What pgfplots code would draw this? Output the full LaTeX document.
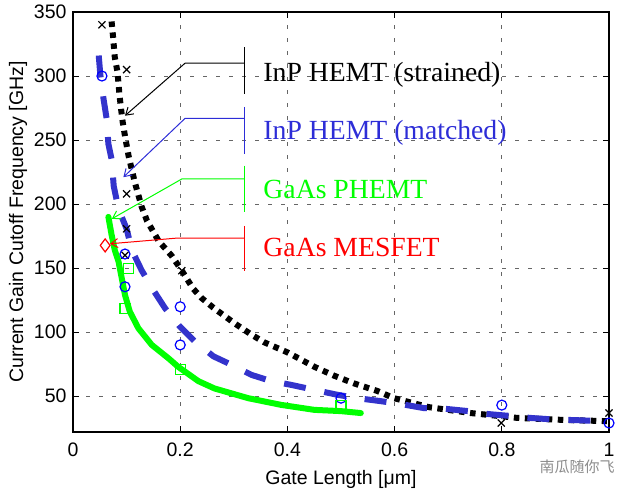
\documentclass[border=0pt]{standalone}
\usepackage{fontspec}
\setmainfont{Liberation Serif}
\setsansfont{Liberation Sans}
\newfontfamily\cjk{Noto Sans CJK SC}
\usepackage{pgfplots}
\pgfplotsset{compat=1.18}
\usetikzlibrary{arrows.meta}
\definecolor{mblue}{RGB}{51,51,204}
\definecolor{tblue}{RGB}{45,45,215}
\definecolor{mgreen}{RGB}{0,255,0}
\definecolor{mred}{RGB}{255,0,0}
\begin{document}
\begin{tikzpicture}
\useasboundingbox (-73pt,-65pt) rectangle (550pt,432pt);
\begin{axis}[
  at={(0pt,0pt)}, anchor=south west,
  scale only axis, width=536pt, height=420pt,
  xmin=0, xmax=1, ymin=22, ymax=350,
  xtick={0,0.2,0.4,0.6,0.8,1}, ytick={50,100,150,200,250,300,350},
  tick align=inside, major tick length=6pt,
  grid=major, grid style={black!60, dash pattern=on 4pt off 9pt, line width=0.8pt},
  axis line style={line width=1.2pt},
  tick style={black, line width=1pt},
  /pgf/number format/assume math mode=true,
  ticklabel style={font=\sffamily\fontsize{19.5}{20}\selectfont},
  xticklabel style={yshift=-7.5pt},
  yticklabel style={xshift=-3pt},
  label style={font=\sffamily\fontsize{19.5}{20}\selectfont},
  xlabel style={yshift=-6.5pt},
  xlabel={Gate Length [μm]},
  ylabel={Current Gain Cutoff Frequency [GHz]},
  clip=false,
]
% InP HEMT (strained) - black dotted
\addplot[black, line width=6pt, dash pattern=on 5.5pt off 5.5pt] coordinates {
(0.072,342.6)(0.074,334)(0.078,314.6)(0.083,303)(0.087,284)(0.092,266)(0.097,253)(0.104,237)(0.115,217.5)(0.128,198)(0.138,187)(0.160,171)(0.184,159.7)(0.203,148)(0.224,134)(0.240,126.6)(0.262,119)(0.301,107)(0.333,98)(0.357,92)(0.401,84)(0.450,73)(0.487,66)(0.524,60)(0.568,54)(0.599,48.4)(0.664,41.4)(0.742,36.8)(0.829,33)(0.922,31.3)(0.996,30.5)};
% InP HEMT (matched) - blue dashed
\addplot[mblue, line width=6pt, dash pattern=on 22pt off 19pt] coordinates {
(0.048,316)(0.051,301)(0.057,282)(0.063,266)(0.066,247)(0.072,235)(0.076,214)(0.085,196)(0.100,180.7)(0.110,163.8)(0.128,148.3)(0.150,132.7)(0.172,118.5)(0.199,104.5)(0.227,92.8)(0.262,81.1)(0.296,74.4)(0.333,66.6)(0.370,61.7)(0.407,58.8)(0.450,54.9)(0.494,51)(0.531,48.4)(0.574,46.1)(0.612,43.8)(0.654,40.7)(0.695,40.1)(0.738,38.3)(0.775,36)(0.819,34.4)(0.856,32.9)(0.903,31.6)(0.937,31.3)(0.983,30.5)(1.0,30)};
% GaAs PHEMT - green solid
\addplot[mgreen, line width=6pt, line cap=round, line join=round] coordinates {
(0.066,190)(0.072,176)(0.078,164)(0.085,155)(0.091,142)(0.097,129)(0.106,116)(0.122,103)(0.147,90)(0.178,79.6)(0.196,73)(0.234,61.7)(0.264,56)(0.327,48.4)(0.388,43.2)(0.450,39.3)(0.500,38.3)(0.537,36.8)};
% markers
\addplot[only marks, mark=x, mark size=5pt, black, line width=1.2pt] coordinates {
(0.054,340)(0.100,305)(0.100,208)(0.100,180.7)(0.097,160)(0.203,148)(0.799,29)(1.0,36.8)};
\addplot[only marks, mark=o, mark size=5pt, blue, line width=1.2pt] coordinates {
(0.054,300)(0.097,161)(0.097,135.4)(0.2,119.8)(0.2,90)(0.5,48.4)(0.8,43)(1.0,29)};
\addplot[only marks, mark=square, mark size=5pt, mgreen, line width=1.2pt] coordinates {
(0.103,149.6)(0.097,118.5)(0.2,70.5)(0.5,42.5)};
\addplot[only marks, mark=diamond, mark size=6.5pt, mred, line width=1.2pt] coordinates {
(0.06,167.7)};
% annotations
\draw[black, line width=1pt, -{Straight Barb[length=7pt,width=9pt]}] (axis cs:0.32,310) -- (axis cs:0.209,310) -- (axis cs:0.097,269);
\draw[black, line width=1.3pt] (axis cs:0.32,322.6) -- (axis cs:0.32,285.8);
\draw[tblue, line width=1pt, -{Straight Barb[length=7pt,width=9pt]}] (axis cs:0.32,266.9) -- (axis cs:0.209,266.9) -- (axis cs:0.094,221);
\draw[tblue, line width=1.3pt] (axis cs:0.32,276) -- (axis cs:0.32,239);
\draw[mgreen, line width=1pt, -{Straight Barb[length=7pt,width=9pt]}] (axis cs:0.32,219.6) -- (axis cs:0.203,219.6) -- (axis cs:0.0725,188.5);
\draw[mgreen, line width=1.3pt] (axis cs:0.32,230) -- (axis cs:0.32,193.7);
\draw[mred, line width=1pt, -{Straight Barb[length=7pt,width=9pt]}] (axis cs:0.32,173.5) -- (axis cs:0.196,173.5) -- (axis cs:0.069,169);
\draw[mred, line width=1.3pt] (axis cs:0.32,183) -- (axis cs:0.32,148);
\node[anchor=base west, inner sep=0pt, font=\fontsize{27.7}{30}\selectfont] at (axis cs:0.355,295.4) {InP HEMT (strained)};
\node[anchor=base west, inner sep=0pt, text=tblue, font=\fontsize{27.7}{30}\selectfont] at (axis cs:0.355,250.8) {InP HEMT (matched)};
\node[anchor=base west, inner sep=0pt, text=mgreen, font=\fontsize{27.7}{30}\selectfont] at (axis cs:0.355,204) {GaAs PHEMT};
\node[anchor=base west, inner sep=0pt, text=mred, font=\fontsize{27.7}{30}\selectfont] at (axis cs:0.355,158.7) {GaAs MESFET};
\node[anchor=east, inner sep=0pt, text=black!45, font=\cjk\fontsize{15}{15}\selectfont] at (axis cs:1.011,-5.5) {南瓜随你飞};
\end{axis}
\end{tikzpicture}
\end{document}
